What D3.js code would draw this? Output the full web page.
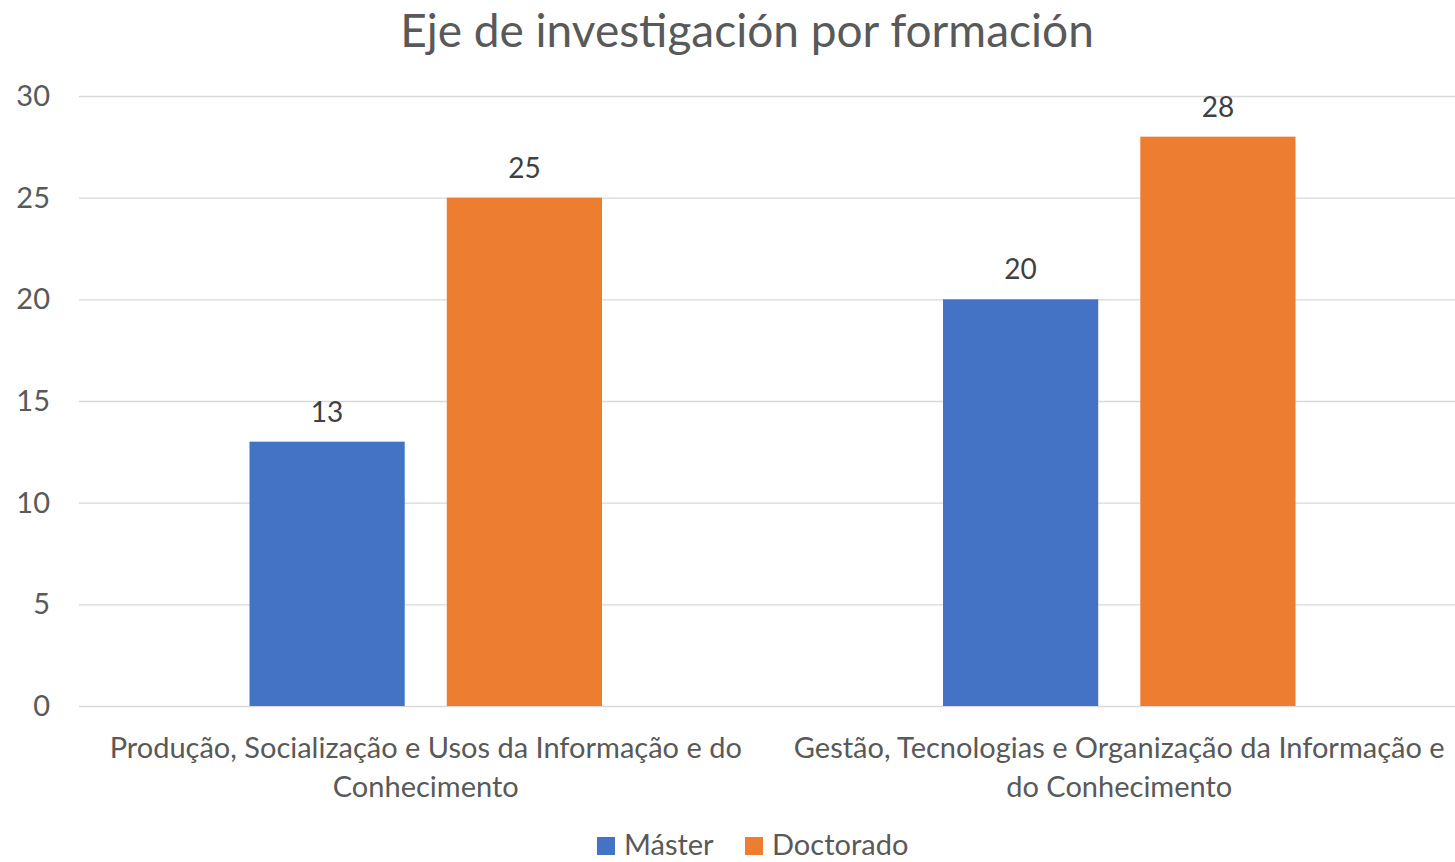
<!DOCTYPE html>
<html>
<head>
<meta charset="utf-8">
<script src="https://cdn.jsdelivr.net/npm/d3@7"></script>
<style>
  body { margin: 0; background: #fff; }
  svg { display: block; font-family: Lato, "Noto Sans", sans-serif; }
</style>
</head>
<body>
<div id="chart"></div>
<script>
// chart data
var title = "Eje de investigación por formación"
var categories = [
  "Produção, Socialização e Usos da Informação e do Conhecimento",
  "Gestão, Tecnologias e Organização da Informação e do Conhecimento"
]
var seriesNames = ["Máster", "Doctorado"]
var master = [13, 20]
var doctorado = [25, 28]
var yTicks = [0, 5, 10, 15, 20, 25, 30]

var colors = ["#4472c4", "#ed7d31"]
var width = 1455
var height = 862
var textColor = "#595959"

var data = categories.map(function (c, i) {
  return { cat: c, values: [master[i], doctorado[i]] }
})

var svg = d3.select("#chart").append("svg")
  .attr("width", width)
  .attr("height", height)

var x0 = d3.scaleBand().domain(categories).range([79, 1466]).paddingInner(0).paddingOuter(0)
var x1 = d3.scaleBand().domain(seriesNames)
  .range([170.5, x0.bandwidth() - 170.5])
  .paddingInner(0.2132).paddingOuter(0)
var y = d3.scaleLinear().domain([0, 30]).range([706, 96])

// gridlines
svg.append("g").selectAll("line")
  .data(yTicks)
  .enter().append("line")
  .attr("x1", 79).attr("x2", width)
  .attr("y1", function (d) { return y(d) + 0.5 })
  .attr("y2", function (d) { return y(d) + 0.5 })
  .attr("stroke", "#d9d9d9")
  .attr("stroke-width", 1.3)

// y tick labels
svg.append("g").selectAll("text")
  .data(yTicks)
  .enter().append("text")
  .attr("x", 50)
  .attr("y", function (d) { return y(d) })
  .attr("dy", "0.35em")
  .attr("text-anchor", "end")
  .attr("fill", textColor)
  .style("font-size", "29px")
  .text(function (d) { return d })

// bars
var groups = svg.append("g").selectAll("g")
  .data(data)
  .enter().append("g")
  .attr("transform", function (d) { return "translate(" + x0(d.cat) + ",0)" })

groups.selectAll("rect")
  .data(function (d) { return d.values.map(function (v, i) { return { name: seriesNames[i], value: v, i: i } }) })
  .enter().append("rect")
  .attr("x", function (d) { return x1(d.name) })
  .attr("width", x1.bandwidth())
  .attr("y", function (d) { return y(d.value) })
  .attr("height", function (d) { return y(0) - y(d.value) })
  .attr("fill", function (d) { return colors[d.i] })

groups.selectAll("text.val")
  .data(function (d) { return d.values.map(function (v, i) { return { name: seriesNames[i], value: v } }) })
  .enter().append("text")
  .attr("class", "val")
  .attr("x", function (d) { return x1(d.name) + x1.bandwidth() / 2 })
  .attr("y", function (d) { return y(d.value) - 20 })
  .attr("text-anchor", "middle")
  .attr("fill", "#404040")
  .style("font-size", "28px")
  .text(function (d) { return d.value })

// category labels, wrapped
function wrap(text, maxWidth) {
  text.each(function () {
    var t = d3.select(this)
    var words = t.text().split(/\s+/)
    var cx = t.attr("x")
    t.text(null)
    var line = []
    var tspan = t.append("tspan").attr("x", cx).attr("dy", 0)
    words.forEach(function (w) {
      line.push(w)
      tspan.text(line.join(" "))
      if (tspan.node().getComputedTextLength() > maxWidth && line.length > 1) {
        line.pop()
        tspan.text(line.join(" "))
        line = [w]
        tspan = t.append("tspan").attr("x", cx).attr("dy", 39).text(w)
      }
    })
  })
}

svg.append("g").selectAll("text")
  .data(categories)
  .enter().append("text")
  .attr("x", function (d) { return x0(d) + x0.bandwidth() / 2 })
  .attr("y", 758)
  .attr("text-anchor", "middle")
  .attr("fill", textColor)
  .style("font-size", "29px")
  .text(function (d) { return d })
  .call(wrap, 670)

// title
svg.append("text")
  .attr("x", 747)
  .attr("y", 47)
  .attr("text-anchor", "middle")
  .attr("fill", textColor)
  .style("font-size", "46px")
  .text(title)

// legend
var legend = svg.append("g").selectAll("g")
  .data(seriesNames)
  .enter().append("g")
  .attr("transform", function (d, i) { return "translate(" + [597, 745][i] + ",837)" })

legend.append("rect")
  .attr("width", 18).attr("height", 18)
  .attr("fill", function (d, i) { return colors[i] })

legend.append("text")
  .attr("x", 27)
  .attr("y", 18)
  .attr("fill", textColor)
  .style("font-size", "29px")
  .text(function (d) { return d })
</script>
</body>
</html>
